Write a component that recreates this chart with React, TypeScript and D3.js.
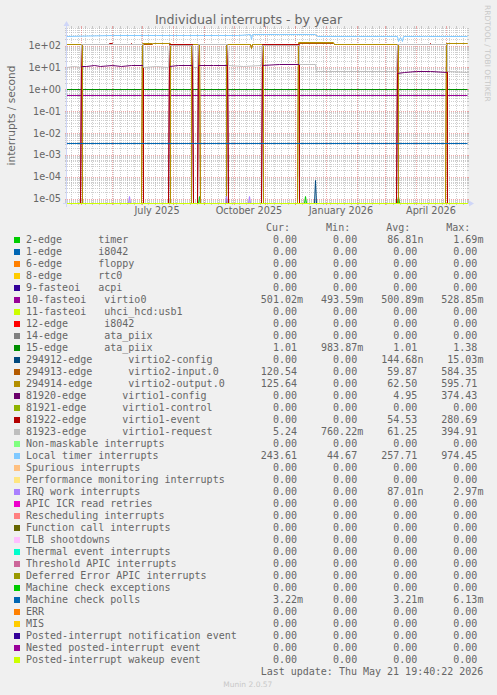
import React from "react";
import * as d3 from "d3";

const W = 497;
const H = 695;

// ---------- legend / table data ----------
const legendNames = [
  "2-edge      timer",
  "1-edge      i8042",
  "6-edge      floppy",
  "8-edge      rtc0",
  "9-fasteoi   acpi",
  "10-fasteoi   virtio0",
  "11-fasteoi   uhci_hcd:usb1",
  "12-edge      i8042",
  "14-edge      ata_piix",
  "15-edge      ata_piix",
  "294912-edge      virtio2-config",
  "294913-edge      virtio2-input.0",
  "294914-edge      virtio2-output.0",
  "81920-edge      virtio1-config",
  "81921-edge      virtio1-control",
  "81922-edge      virtio1-event",
  "81923-edge      virtio1-request",
  "Non-maskable interrupts",
  "Local timer interrupts",
  "Spurious interrupts",
  "Performance monitoring interrupts",
  "IRQ work interrupts",
  "APIC ICR read retries",
  "Rescheduling interrupts",
  "Function call interrupts",
  "TLB shootdowns",
  "Thermal event interrupts",
  "Threshold APIC interrupts",
  "Deferred Error APIC interrupts",
  "Machine check exceptions",
  "Machine check polls",
  "ERR",
  "MIS",
  "Posted-interrupt notification event",
  "Nested posted-interrupt event",
  "Posted-interrupt wakeup event",
];

const seriesColors = [
  "#00CC00", "#0066B3", "#FF8000", "#FFCC00", "#330099", "#990099", "#CCFF00",
  "#FF0000", "#808080", "#008F00", "#00487D", "#B35A00", "#B38F00", "#6B006B",
  "#8FB300", "#B30000", "#BEBEBE", "#80FF80", "#80C9FF", "#FFC080", "#FFE680",
  "#AA80FF", "#EE00CC", "#FF8080", "#666600", "#FFBFFF", "#00FFCC", "#CC6699",
  "#999900", "#00CC00", "#0066B3", "#FF8000", "#FFCC00", "#330099", "#990099",
  "#CCFF00",
];

const Z = "0.00";
const curValues = [
  Z, Z, Z, Z, Z, "501.02m", Z, Z, Z, "1.01", Z, "120.54", "125.64", Z, Z, Z, "5.24",
  Z, "243.61", Z, Z, Z, Z, Z, Z, Z, Z, Z, Z, Z, "3.22m", Z, Z, Z, Z, Z,
];
const minValues = [
  Z, Z, Z, Z, Z, "493.59m", Z, Z, Z, "983.87m", Z, Z, Z, Z, Z, Z, "760.22m",
  Z, "44.67", Z, Z, Z, Z, Z, Z, Z, Z, Z, Z, Z, Z, Z, Z, Z, Z, Z,
];
const avgValues = [
  "86.81n", Z, Z, Z, Z, "500.89m", Z, Z, Z, "1.01", "144.68n", "59.87", "62.50", "4.95", Z, "54.53", "61.25",
  Z, "257.71", Z, Z, "87.01n", Z, Z, Z, Z, Z, Z, Z, Z, "3.21m", Z, Z, Z, Z, Z,
];
const maxValues = [
  "1.69m", Z, Z, Z, Z, "528.85m", Z, Z, Z, "1.38", "15.03m", "584.35", "595.71", "374.43", Z, "280.69", "394.91",
  Z, "974.45", Z, Z, "2.97m", Z, Z, Z, Z, Z, Z, Z, Z, "6.13m", Z, Z, Z, Z, Z,
];
const columnHeaders = ["Cur:", "Min:", "Avg:", "Max:"];

// ---------- axis data ----------
const yTickValues = [1e2, 1e1, 1e0, 1e-1, 1e-2, 1e-3, 1e-4, 1e-5];
const yTickLabels = ["1e+02", "1e+01", "1e+00", "1e-01", "1e-02", "1e-03", "1e-04", "1e-05"];
const xLabelMonths = ["2025-07-01", "2025-10-01", "2026-01-01", "2026-04-01"];
const xLabelTexts = ["July 2025", "October 2025", "January 2026", "April 2026"];

const endTime = "2026-05-21T19:40:22Z";
const rangeDays = 400;

// ---------- series data (date, value) ----------
type Pt = [string, number];

const localTimer: Pt[] = [
  ["2025-04-16", 270], ["2025-06-01", 272], ["2025-07-15", 276], ["2025-08-15", 285],
  ["2025-09-15", 292], ["2025-10-05", 300], ["2025-10-17", 302], ["2025-10-18", 195],
  ["2025-10-19", 305], ["2025-11-15", 310], ["2025-12-21", 310], ["2025-12-23", 255],
  ["2026-02-01", 252], ["2026-03-13", 250], ["2026-03-14", 160], ["2026-03-16", 235],
  ["2026-03-18", 145], ["2026-03-19", 250], ["2026-04-08", 250], ["2026-04-10", 268],
  ["2026-04-12", 250], ["2026-05-22", 248],
];

const virtio2Output: Pt[] = [
  ["2025-04-16", 117], ["2025-05-02", 117], ["2025-05-02T12", 0],
  ["2025-06-30T12", 0], ["2025-07-01", 120], ["2025-07-11", 121], ["2025-07-12", 130],
  ["2025-07-27", 130], ["2025-07-29", 120], ["2025-07-29T12", 0],
  ["2025-08-19", 0], ["2025-08-19T12", 113], ["2025-08-27T12", 113], ["2025-08-28", 0],
  ["2025-09-23", 0], ["2025-09-23T12", 117], ["2025-10-17", 117], ["2025-10-18", 74],
  ["2025-10-19", 117], ["2025-10-30", 117], ["2025-10-30T12", 0],
  ["2025-12-03T12", 0], ["2025-12-04", 134], ["2026-01-08", 136], ["2026-01-09", 117],
  ["2026-03-14", 117], ["2026-03-14T12", 0],
  ["2026-04-30T12", 0], ["2026-05-01", 126], ["2026-05-22", 126],
];

const virtio2Input: Pt[] = [
  ["2025-04-16", 112], ["2025-05-02", 112], ["2025-05-02T12", 0],
  ["2025-06-30T12", 0], ["2025-07-01", 115], ["2025-07-11", 116], ["2025-07-12", 125],
  ["2025-07-27", 125], ["2025-07-29", 115], ["2025-07-29T12", 0],
  ["2025-08-19", 0], ["2025-08-19T12", 108], ["2025-08-27T12", 108], ["2025-08-28", 0],
  ["2025-09-23", 0], ["2025-09-23T12", 112], ["2025-10-17", 112], ["2025-10-18", 71],
  ["2025-10-19", 112], ["2025-10-30", 112], ["2025-10-30T12", 0],
  ["2025-12-03T12", 0], ["2025-12-04", 129], ["2026-01-08", 130], ["2026-01-09", 112],
  ["2026-03-14", 112], ["2026-03-14T12", 0],
  ["2026-04-30T12", 0], ["2026-05-01", 121], ["2026-05-22", 121],
];

const virtio1Event: Pt[] = [
  ["2025-04-16", 0], ["2025-04-30T12", 0], ["2025-05-01", 112], ["2025-05-28", 112],
  ["2025-05-29", 122], ["2025-06-01", 122], ["2025-06-02", 112], ["2025-06-19", 112],
  ["2025-06-20", 122], ["2025-06-21", 112], ["2025-07-02", 112], ["2025-07-02T12", 0],
  ["2025-07-27T12", 0], ["2025-07-28", 115], ["2025-08-20T12", 115], ["2025-08-21", 0],
  ["2025-08-25T12", 0], ["2025-08-26", 112], ["2025-09-24T12", 112], ["2025-09-25", 0],
  ["2025-10-28T12", 0], ["2025-10-29", 115], ["2025-12-05", 115], ["2025-12-05T12", 0],
  ["2026-03-12T12", 0], ["2026-03-13", 110], ["2026-04-14", 110], ["2026-04-15", 122],
  ["2026-04-16", 110], ["2026-05-02", 110], ["2026-05-02T12", 0], ["2026-05-22", 0],
];

const virtio1Request: Pt[] = [
  ["2025-04-16", 10.4], ["2025-04-24", 10.8], ["2025-04-30T12", 10.4], ["2025-05-01", 112],
  ["2025-07-02", 112], ["2025-07-02T12", 10.2], ["2025-07-15", 10.8], ["2025-07-27T12", 10.4],
  ["2025-07-28", 100], ["2025-08-20T12", 100], ["2025-08-21", 10.4], ["2025-08-25T12", 10.4],
  ["2025-08-26", 112], ["2025-09-24T12", 112], ["2025-09-25", 11.6], ["2025-10-10", 11.2],
  ["2025-10-28T12", 11.6], ["2025-10-29", 100], ["2025-12-05", 100], ["2025-12-05T12", 13],
  ["2025-12-21", 13], ["2025-12-22", 6.3], ["2026-01-20", 6.5], ["2026-03-12T12", 6.3],
  ["2026-03-13", 112], ["2026-05-02", 112], ["2026-05-02T12", 6.3], ["2026-05-22", 6.0],
];

const virtio1Config: Pt[] = [
  ["2025-04-16", 0], ["2025-04-30T12", 0], ["2025-05-01", 10.5], ["2025-05-06", 11.5],
  ["2025-05-14", 12.5], ["2025-05-20", 11.2], ["2025-06-01", 12], ["2025-06-10", 11.5],
  ["2025-06-20", 12.5], ["2025-07-02", 12], ["2025-07-02T12", 0],
  ["2025-07-27T12", 0], ["2025-07-28", 11.5], ["2025-08-06", 12.5], ["2025-08-20T12", 12],
  ["2025-08-21", 0], ["2025-08-25T12", 0], ["2025-08-26", 12], ["2025-09-10", 12.6],
  ["2025-09-24T12", 12], ["2025-09-25", 0], ["2025-10-28T12", 0], ["2025-10-29", 12.5],
  ["2025-11-15", 13], ["2025-12-05", 13], ["2025-12-05T12", 0],
  ["2026-03-12T12", 0], ["2026-03-13", 5], ["2026-03-20", 6], ["2026-04-01", 6.6],
  ["2026-04-15", 6.2], ["2026-05-02", 6], ["2026-05-02T12", 0], ["2026-05-22", 0],
];

const virtio0: Pt[] = [["2025-04-16", 0.501], ["2026-05-22", 0.501]];
const ataPiix15: Pt[] = [["2025-04-16", 1.01], ["2026-05-22", 1.01]];
const machineCheckPolls: Pt[] = [["2025-04-16", 0.00321], ["2026-05-22", 0.00321]];

const timerSpikes: Pt[] = [
  ["2025-04-16", 0], ["2025-08-26", 0], ["2025-08-27", 1.3e-5], ["2025-08-28", 0],
  ["2025-12-10", 0], ["2025-12-11", 1.3e-5], ["2025-12-12", 0],
  ["2026-03-13", 0], ["2026-03-14", 1.3e-5], ["2026-03-15", 0], ["2026-05-22", 0],
];
const irqWorkSpikes: Pt[] = [
  ["2025-04-16", 0], ["2025-06-17", 0], ["2025-06-18", 1.3e-5], ["2025-06-19", 0],
  ["2025-09-22", 0], ["2025-09-23", 1.3e-5], ["2025-09-24", 0],
  ["2025-10-15", 0], ["2025-10-16", 1.3e-5], ["2025-10-17", 0], ["2026-05-22", 0],
];
const virtio2ConfigSpikes: Pt[] = [
  ["2025-04-16", 0], ["2025-12-20", 0], ["2025-12-21", 6.5e-5], ["2025-12-22", 0], ["2026-05-22", 0],
];

const seriesPoints: (Pt[] | null)[] = [
  timerSpikes, null, null, null, null, virtio0, null, null, null, ataPiix15,
  virtio2ConfigSpikes, virtio2Input, virtio2Output, virtio1Config, null, virtio1Event, virtio1Request,
  null, localTimer, null, null, irqWorkSpikes, null, null, null, null, null, null,
  null, null, machineCheckPolls, null, null, null, null, null,
];

// ---------- helpers ----------
const parseT = (s: string) =>
  new Date(s.length === 10 ? s + "T00:00:00Z" : s.length === 13 ? s + ":00:00Z" : s);

const FONT = "#666666";
const SANS = "'DejaVu Sans', sans-serif";
const MONO = "'DejaVu Sans Mono', monospace";

export default function App() {
  const x0 = 67, x1 = 467, yTop = 28, yBot = 203;
  const tEnd = parseT(endTime);
  const tStart = new Date(tEnd.getTime() - rangeDays * 86400000);
  const x = d3.scaleUtc().domain([tStart, tEnd]).range([x0, x1]);
  const y = d3.scaleLog().domain([Math.pow(10, -5.2), Math.pow(10, 2.8)]).range([yBot, yTop]);
  const snap = (v: number) => Math.floor(v) + 0.5;
  const yv = (v: number) =>
    v > 0 ? snap(Math.max(yTop - 2, Math.min(yBot, y(v)))) : yBot + 0.5;

  const line = d3
    .line<Pt>()
    .x((d) => snap(x(parseT(d[0]))))
    .y((d) => yv(d[1]));

  const zeroLine: Pt[] = [["2025-04-10", 0], ["2026-05-25", 0]];

  // grid values
  const minorY: number[] = [];
  for (let k = -6; k <= 2; k++) for (let m = 2; m <= 9; m++) {
    const v = m * Math.pow(10, k);
    if (y(v) >= yTop && y(v) <= yBot) minorY.push(v);
  }
  const majorY = yTickValues;
  const weeks = d3.utcMonday.range(tStart, tEnd);
  const months = d3.utcMonth.range(tStart, tEnd);
  const px = (v: number) => Math.round(v) + 0.5;

  const rowBase = 243.3;
  const rowStep = 12;
  const colRight = [303, 363.2, 423.4, 483.4];
  const charW = 6.02;

  const splitVal = (s: string) => {
    const m = s.match(/^(.*?)([a-zA-Z]?)$/);
    return m ? [m[1], m[2]] : [s, ""];
  };

  const valueCols = [curValues, minValues, avgValues, maxValues];
  const gridC = "#A8A8A8";
  const gridO = 0.55;
  const mgridC = "#E07070";
  const mgridO = 0.6;

  return (
    <svg width={W} height={H} style={{ display: "block", position: "absolute", left: 0, top: 0 }}>
      <defs>
        <clipPath id="plotClip">
          <rect x={x0} y={yTop - 3} width={x1 - x0 + 1} height={yBot - yTop + 4} />
        </clipPath>
      </defs>
      <rect x={0} y={0} width={W} height={H} fill="#F0F0F0" />
      <rect x={x0} y={yTop} width={x1 - x0} height={yBot - yTop} fill="#FFFFFF" />

      {/* minor horizontal grid */}
      {minorY.map((v, i) => (
        <g key={"mh" + i}>
          <line x1={x0} x2={x1} y1={px(y(v))} y2={px(y(v))} stroke={gridC} strokeOpacity={gridO}
            strokeDasharray="1,1" shapeRendering="crispEdges" />
          <line x1={x0 - 2} x2={x0} y1={px(y(v))} y2={px(y(v))} stroke={gridC} strokeOpacity={gridO} shapeRendering="crispEdges" />
          <line x1={x1} x2={x1 + 2} y1={px(y(v))} y2={px(y(v))} stroke={gridC} strokeOpacity={gridO} shapeRendering="crispEdges" />
        </g>
      ))}
      {/* minor vertical grid */}
      {weeks.map((d, i) => (
        <g key={"mv" + i}>
          <line x1={px(x(d))} x2={px(x(d))} y1={yTop} y2={yBot} stroke={gridC} strokeOpacity={gridO}
            strokeDasharray="1,1" shapeRendering="crispEdges" />
          <line x1={px(x(d))} x2={px(x(d))} y1={yBot} y2={yBot + 2} stroke={gridC} strokeOpacity={gridO} shapeRendering="crispEdges" />
          <line x1={px(x(d))} x2={px(x(d))} y1={yTop - 2} y2={yTop} stroke={gridC} strokeOpacity={gridO} shapeRendering="crispEdges" />
        </g>
      ))}
      {/* major horizontal grid */}
      {majorY.map((v, i) => (
        <g key={"Mh" + i}>
          <line x1={x0} x2={x1} y1={px(y(v))} y2={px(y(v))} stroke={mgridC} strokeOpacity={mgridO}
            strokeDasharray="1,1" shapeRendering="crispEdges" />
          <line x1={x0 - 2} x2={x0} y1={px(y(v))} y2={px(y(v))} stroke={mgridC} strokeOpacity={mgridO} shapeRendering="crispEdges" />
          <line x1={x1} x2={x1 + 2} y1={px(y(v))} y2={px(y(v))} stroke={mgridC} strokeOpacity={mgridO} shapeRendering="crispEdges" />
        </g>
      ))}
      {/* major vertical grid */}
      {months.map((d, i) => (
        <g key={"Mv" + i}>
          <line x1={px(x(d))} x2={px(x(d))} y1={yTop} y2={yBot} stroke={mgridC} strokeOpacity={mgridO}
            strokeDasharray="1,1" shapeRendering="crispEdges" />
          <line x1={px(x(d))} x2={px(x(d))} y1={yBot} y2={yBot + 2} stroke={mgridC} strokeOpacity={mgridO} shapeRendering="crispEdges" />
          <line x1={px(x(d))} x2={px(x(d))} y1={yTop - 2} y2={yTop} stroke={mgridC} strokeOpacity={mgridO} shapeRendering="crispEdges" />
        </g>
      ))}

      {/* axes */}
      <line x1={x0 - 4} x2={x1 + 4} y1={yBot + 0.5} y2={yBot + 0.5} stroke="#CFD6F8" />
      <line x1={x0 - 0.5} x2={x0 - 0.5} y1={yBot + 4} y2={yTop - 4} stroke="#CFD6F8" />
      <path d={`M${x1 + 2},${yBot - 2.5} L${x1 + 7},${yBot + 0.5} L${x1 + 2},${yBot + 3.5} Z`} fill="#CFD6F8" />
      <path d={`M${x0 - 3.5},${yTop - 2} L${x0 - 0.5},${yTop - 7} L${x0 + 2.5},${yTop - 2} Z`} fill="#CFD6F8" />

      {/* series */}
      <g clipPath="url(#plotClip)">
        {seriesColors.map((c, i) => (
          <path key={"s" + i} d={line(seriesPoints[i] ?? zeroLine) || ""} fill="none" stroke={c}
            strokeWidth={1} strokeLinejoin="miter" />
        ))}
      </g>

      {/* title */}
      <text x={248.5} y={24} textAnchor="middle" fontFamily={SANS} fontSize={12.6} fill={FONT}>
        Individual interrupts - by year
      </text>

      {/* y tick labels */}
      {yTickValues.map((v, i) => (
        <text key={"yt" + i} x={61} y={y(v) + 3.5} textAnchor="end" fontFamily={SANS} fontSize={9.7} fill={FONT}>
          {yTickLabels[i]}
        </text>
      ))}
      {/* x labels */}
      {xLabelMonths.map((m, i) => (
        <text key={"xl" + i} x={x(parseT(m)) + 14.8} y={214.3} textAnchor="middle" fontFamily={SANS} fontSize={9.7} fill={FONT}>
          {xLabelTexts[i]}
        </text>
      ))}
      {/* y axis label */}
      <text transform={`translate(14.5, ${(yTop + yBot) / 2}) rotate(-90)`} textAnchor="middle" fontFamily={SANS} fontSize={10.6} fill={FONT}>
        interrupts / second
      </text>
      {/* watermark */}
      <text transform="translate(485, 5) rotate(90)" fontFamily={SANS} fontSize={7.5} fill="#C8C8C8">
        RRDTOOL / TOBI OETIKER
      </text>

      {/* legend header */}
      {columnHeaders.map((h, i) => (
        <text key={"h" + i} x={colRight[i] - 37.1} y={rowBase - rowStep} fontFamily={MONO} fontSize={10} fill={FONT}>
          {h}
        </text>
      ))}
      {legendNames.map((n, i) => {
        const yb = rowBase + i * rowStep;
        return (
          <g key={"lg" + i}>
            <rect x={14} y={yb - 6.3} width={6} height={6} fill={seriesColors[i]} />
            <text x={26} y={yb} fontFamily={MONO} fontSize={10} fill={FONT} style={{ whiteSpace: "pre" }}>
              {n}
            </text>
            {valueCols.map((col, j) => {
              const [num, suf] = splitVal(col[i]);
              return (
                <g key={"v" + j}>
                  <text x={colRight[j] - charW} y={yb} textAnchor="end" fontFamily={MONO} fontSize={10} fill={FONT}>
                    {num}
                  </text>
                  {suf && (
                    <text x={colRight[j] - charW} y={yb} fontFamily={MONO} fontSize={10} fill={FONT}>
                      {suf}
                    </text>
                  )}
                </g>
              );
            })}
          </g>
        );
      })}
      <text x={colRight[3]} y={rowBase + 36 * rowStep} textAnchor="end" fontFamily={MONO} fontSize={10} fill={FONT} style={{ whiteSpace: "pre" }}>
        Last update: Thu May 21 19:40:22 2026
      </text>
      <text x={223.3} y={686.5} fontFamily={SANS} fontSize={7.5} fill="#C8C8C8">
        Munin 2.0.57
      </text>
    </svg>
  );
}
